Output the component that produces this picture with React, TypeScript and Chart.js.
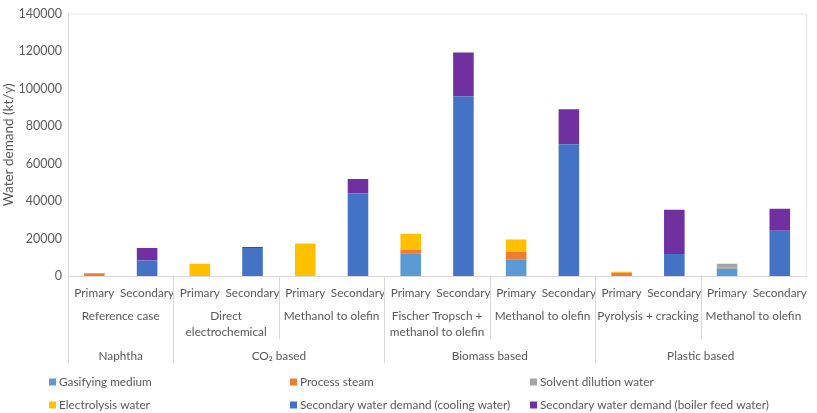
import React, { useEffect, useRef } from "react";
import { Chart, registerables } from "chart.js";

Chart.register(...registerables);

const categories = [
  "Primary", "Secondary", "Primary", "Secondary", "Primary", "Secondary", "Primary",
  "Secondary", "Primary", "Secondary", "Primary", "Secondary", "Primary", "Secondary",
];
const subGroups: (string | string[])[] = [
  "Reference case",
  ["Direct", "electrochemical"],
  "Methanol to olefin",
  ["Fischer Tropsch +", "methanol to olefin"],
  "Methanol to olefin",
  "Pyrolysis + cracking",
  "Methanol to olefin",
];
const topGroups = ["Naphtha", "CO₂ based", "Biomass based", "Plastic based"];
const topGroupSizes = [1, 2, 2, 2]; // number of sub groups in each top group

const gasifyingMedium = [0, 0, 0, 0, 0, 0, 12100, 0, 9000, 0, 0, 0, 4000, 0];
const processSteam = [1500, 0, 0, 0, 0, 0, 2000, 0, 3950, 0, 1700, 0, 600, 0];
const solventDilution = [0, 0, 0, 0, 0, 0, 0, 0, 0, 0, 0, 0, 2000, 0];
const electrolysisWater = [0, 0, 6600, 0, 17400, 0, 8500, 0, 6550, 0, 600, 0, 0, 0];
const coolingWater = [0, 8300, 0, 14900, 0, 44000, 0, 95900, 0, 70300, 0, 11750, 0, 24200];
const boilerFeedWater = [0, 6600, 0, 600, 0, 7800, 0, 23300, 0, 18650, 0, 23650, 0, 11700];

const seriesLabels = [
  "Gasifying medium",
  "Process steam",
  "Solvent dilution water",
  "Electrolysis water",
  "Secondary water demand (cooling water)",
  "Secondary water demand (boiler feed water)",
];
const seriesColors = ["#5B9BD5", "#ED7D31", "#A5A5A5", "#FFC000", "#4472C4", "#7030A0"];

const FONT = "Lato, 'Open Sans', sans-serif";
const TEXT = "#595959";
const LINE = "#D9D9D9";
const FS = 11.8;

const multiLevelPlugin = {
  id: "multiLevel",
  afterDraw(chart: any) {
    const { ctx, chartArea, scales } = chart;
    const x = scales.x;
    const half = (x.getPixelForValue(1) - x.getPixelForValue(0)) / 2;
    const edge = (i: number) => x.getPixelForValue(i) - half;
    ctx.save();
    ctx.strokeStyle = "#E6E6E6";
    ctx.lineWidth = 1;
    ctx.beginPath();
    ctx.moveTo(chartArea.left, chartArea.top + 0.5);
    ctx.lineTo(chartArea.right + 0.5, chartArea.top + 0.5);
    ctx.lineTo(chartArea.right + 0.5, chartArea.bottom);
    ctx.stroke();

    const base = chartArea.bottom;
    ctx.strokeStyle = LINE;
    // sub group separators
    for (let g = 0; g < subGroups.length; g++) {
      const px = Math.round(edge(g * 2)) + 0.5;
      ctx.beginPath();
      ctx.moveTo(px, base);
      ctx.lineTo(px, base + 63);
      ctx.stroke();
    }
    // top group separators
    let acc = 0;
    const topEdges = [0];
    topGroupSizes.forEach((n) => {
      acc += n;
      topEdges.push(acc);
    });
    topEdges.forEach((g, k) => {
      if (k === topEdges.length - 1) return;
      const px = Math.round(edge(g * 2)) + 0.5;
      ctx.beginPath();
      ctx.moveTo(px, base);
      ctx.lineTo(px, base + 87);
      ctx.stroke();
    });

    ctx.fillStyle = TEXT;
    ctx.font = `${FS}px ${FONT}`;
    ctx.textAlign = "center";
    ctx.textBaseline = "middle";
    subGroups.forEach((lab, g) => {
      const cx = (edge(g * 2) + edge(g * 2 + 2)) / 2;
      const lines = Array.isArray(lab) ? lab : [lab];
      lines.forEach((l, j) => ctx.fillText(l, cx, base + 40 + j * 16));
    });
    topGroups.forEach((lab, k) => {
      const cx = (edge(topEdges[k] * 2) + edge(topEdges[k + 1] * 2)) / 2;
      ctx.fillText(lab, cx, base + 80);
    });

    // legend
    const colX = [49, 290, 530];
    const rowY = [382, 405];
    ctx.textAlign = "left";
    seriesLabels.forEach((lab, i) => {
      const cxp = colX[i % 3];
      const cyp = rowY[Math.floor(i / 3)];
      ctx.fillStyle = seriesColors[i];
      ctx.fillRect(cxp, cyp - 3.5, 7, 7);
      ctx.fillStyle = TEXT;
      ctx.fillText(lab, cxp + 10, cyp);
    });
    ctx.restore();
  },
};

export default function App() {
  const ref = useRef<HTMLCanvasElement | null>(null);
  useEffect(() => {
    if (!ref.current) return;
    const datasetsData = [
      gasifyingMedium, processSteam, solventDilution, electrolysisWater, coolingWater, boilerFeedWater,
    ];
    const chart = new Chart(ref.current, {
      type: "bar",
      data: {
        labels: categories,
        datasets: datasetsData.map((d, i) => ({
          label: seriesLabels[i],
          data: d,
          backgroundColor: seriesColors[i],
          borderWidth: 0,
          barPercentage: 0.39,
          categoryPercentage: 1,
        })),
      },
      options: {
        animation: false,
        responsive: true,
        maintainAspectRatio: false,
        layout: { padding: { left: 0, right: 3, top: 6, bottom: 0 } },
        plugins: { legend: { display: false }, tooltip: { enabled: false } },
        scales: {
          x: {
            stacked: true,
            grid: { display: false, drawTicks: false },
            border: { display: true, color: LINE },
            ticks: { color: TEXT, font: { family: FONT, size: FS }, padding: 10, maxRotation: 0, autoSkip: false },
            afterFit: (s: any) => { s.height = 137; },
          },
          y: {
            stacked: true,
            min: 0,
            max: 140000,
            grid: { display: false, drawTicks: false },
            border: { display: true, color: LINE },
            ticks: {
              stepSize: 20000,
              color: TEXT,
              font: { family: FONT, size: 12.5 },
              padding: 6,
              callback: (v: any) => String(v),
            },
            title: {
              display: true,
              text: "Water demand (kt/y)",
              color: TEXT,
              font: { family: FONT, size: 13.5 },
              padding: { top: 1, bottom: 0 },
            },
            afterFit: (s: any) => { s.width = 68; },
          },
        },
      },
      plugins: [multiLevelPlugin],
    });
    return () => chart.destroy();
  }, []);
  return (
    <div style={{ position: "absolute", left: 0, top: 0, width: 817, height: 413, background: "#fff" }}>
      <canvas ref={ref} />
    </div>
  );
}
